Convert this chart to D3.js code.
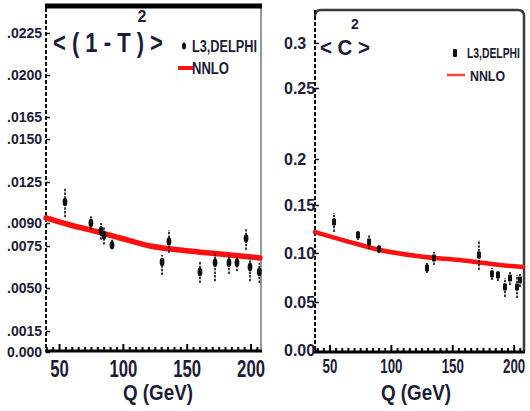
<!DOCTYPE html>
<html>
<head>
<meta charset="utf-8">
<script src="https://cdn.jsdelivr.net/npm/d3@7"></script>
<style>
  body { margin: 0; background: #fff; }
  svg { display: block; }
  text { font-family: "Liberation Sans", Arial, sans-serif; font-weight: bold; fill: #1c1c38; }
</style>
</head>
<body>
<svg id="chart" width="530" height="411"></svg>
<script>
// left panel, <(1-T)^2>
const qT = [54.3, 74.6, 82.5, 84.8, 91.1, 130.3, 135.7, 160.0, 171.8, 182.7, 189.0, 196.1, 199.2, 206.5]
const valT = [.0108, .0090, .0085, .0082, .00756, .00655, .0078, .00595, .0065, .0065, .0065, .0080, .00625, .00595]
const loT = [.0095, .00855, .0079, .0076, .0073, .00577, .0071, .0053, .0054, .00583, .0060, .00726, .0054, .0053]
const hiT = [.0120, .0096, .0090, .0087, .0079, .00696, .00855, .00655, .0071, .00696, .00685, .0086, .00685, .0065]
const nnloQT = [39.4, 58.2, 73.9, 97.4, 120.9, 144.4, 167.9, 207.0]
const nnloT = [.00943, .00887, .00855, .00802, .0075, .00726, .00708, .00679]
const yTicksT = [0, .0015, .0050, .0075, .0090, .0125, .0150, .0165, .0200, .0225]
const yLabelsT = ['0.000', '.0015', '.0050', '.0075', '.0090', '.0125', '.0150', '.0165', '.0200', '.0225']

// right panel, <C^2>
const qC = [53.3, 72.8, 81.8, 89.9, 129.0, 134.7, 171.3, 181.9, 186.8, 192.5, 196.6, 202.3, 204.7]
const valC = [.1323, .1187, .1114, .1042, .0847, .0949, .098, .0786, .0776, .0653, .0745, .0653, .0724]
const loC = [.1219, .1135, .1042, .100, .0796, .0878, .0827, .0724, .0714, .0551, .0673, .0541, .0653]
const hiC = [.1417, .1229, .1187, .1083, .0898, .1010, .1135, .0847, .0827, .0745, .0806, .0776, .0786]
const nnloQC = [37.8, 66.3, 90.7, 127.4, 155.9, 188.5, 207.2]
const nnloC = [.1219, .1114, .1031, .0959, .0929, .0878, .0857]
const yTicksC = [0, .05, .10, .15, .2, .25, .3]
const yLabelsC = ['0.00', '0.05', '0.10', '0.15', '0.2', '0.25', '0.3']

const xTicks = [50, 100, 150, 200]

const svg = d3.select('#chart')

// squeeze a text horizontally to a given width (the source uses a narrow font)
function fitText(g, x, y, str, size, w, anchor) {
  const t = g.append('text').attr('text-anchor', anchor || 'start')
    .style('font-size', size + 'px').text(str)
  const len = t.node().getComputedTextLength()
  t.attr('transform', `translate(${x},${y}) scale(${w / len},1)`)
  return t
}

function panel(o) {
  const g = svg.append('g')
  const x = d3.scaleLinear().domain(o.xDomain).range([o.left, o.right])
  const y = d3.scaleLinear().domain(o.yTicks).range(o.yRange)

  // frame
  if (o.rounded) {
    g.append('path')
      .attr('d', `M${o.right},${o.bottom}V${o.top + 6}Q${o.right},${o.top} ${o.right - 6},${o.top}H${o.left + 6}Q${o.left},${o.top} ${o.left},${o.top + 6}`)
      .attr('fill', 'none').attr('stroke', '#3a3a3a').attr('stroke-width', 2.5)
  } else {
    g.append('line').attr('x1', o.right).attr('x2', o.right).attr('y1', o.top).attr('y2', o.bottom)
      .attr('stroke', '#999').attr('stroke-width', 2)
    g.append('line').attr('x1', o.left - 1).attr('x2', o.right + 1).attr('y1', o.top - 2).attr('y2', o.top - 2)
      .attr('stroke', '#000').attr('stroke-width', 5)
  }
  // left axis, dashed look
  g.append('line').attr('x1', o.left).attr('x2', o.left).attr('y1', o.top).attr('y2', o.bottom)
    .attr('stroke', '#111').attr('stroke-width', 2).attr('stroke-dasharray', '4,2')

  const ya = g.append('g').attr('transform', `translate(${o.left},0)`)
    .call(d3.axisLeft(y).tickValues(o.yTicks).tickFormat((d, i) => o.yLabels[i]).tickSize(-4).tickPadding(0))
  ya.select('.domain').remove()
  ya.selectAll('line').attr('stroke', '#111').attr('stroke-width', 1.5)
  ya.selectAll('text')
    .attr('text-anchor', 'start').attr('x', o.yLabelX - o.left)
    .style('font-size', o.yFont + 'px').attr('fill', '#1c1c38')

  // bottom axis with minor ticks
  g.append('line').attr('x1', o.left - 1).attr('x2', o.right + 1).attr('y1', o.bottom).attr('y2', o.bottom)
    .attr('stroke', '#000').attr('stroke-width', 3)
  const minor = d3.range(40, 210, 5).filter(d => d > o.xDomain[0] && d < o.xDomain[1])
  g.selectAll('.minor').data(minor).enter().append('line')
    .attr('x1', d => x(d)).attr('x2', d => x(d))
    .attr('y1', o.bottom).attr('y2', d => o.bottom - (d % 50 === 0 ? 7 : 4))
    .attr('stroke', '#000').attr('stroke-width', 2)

  xTicks.forEach(d => fitText(g, x(d), o.xLabelY, String(d), o.xFont, String(d).length * o.xCharW, 'middle'))
  fitText(g, o.titleX, 400, 'Q (GeV)', 22, 70, 'middle')

  // NNLO curve
  const line = d3.line().x(d => x(d[0])).y(d => y(d[1])).curve(d3.curveMonotoneX)
  g.append('path').datum(d3.zip(o.nnloQ, o.nnlo))
    .attr('d', line).attr('fill', 'none')
    .attr('stroke', '#ff1010').attr('stroke-width', o.curveW).attr('stroke-linecap', 'round')

  // data points
  const pts = g.selectAll('.pt').data(o.q.map((q, i) => ({ q, v: o.val[i], lo: o.lo[i], hi: o.hi[i] })))
    .enter().append('g')
  pts.append('line')
    .attr('x1', d => x(d.q)).attr('x2', d => x(d.q))
    .attr('y1', d => y(d.lo)).attr('y2', d => y(d.hi))
    .attr('stroke', '#111').attr('stroke-width', 1.6).attr('stroke-dasharray', '2.5,1.2')
  if (o.rounded) {
    pts.append('rect')
      .attr('x', d => x(d.q) - 2).attr('y', d => y(d.v) - 3.5)
      .attr('width', 4).attr('height', 7).attr('rx', 1).attr('fill', '#111')
  } else {
    pts.append('ellipse')
      .attr('cx', d => x(d.q)).attr('cy', d => y(d.v))
      .attr('rx', 2.4).attr('ry', 4.2).attr('fill', '#111')
  }
  return g
}

const left = panel({
  left: 46, right: 261, top: 8, bottom: 351,
  xDomain: [39.4, 207.8], yTicks: yTicksT, yLabels: yLabelsT,
  yRange: [352, 331, 288, 246, 223, 182, 139, 117, 75, 33],
  yLabelX: 7, yFont: 14, xFont: 23, xLabelY: 377, xCharW: 9.3, titleX: 158,
  q: qT, val: valT, lo: loT, hi: hiT, nnloQ: nnloQT, nnlo: nnloT, curveW: 5.5
})

const right = panel({
  left: 315, right: 524, top: 10, bottom: 352, rounded: true,
  xDomain: [37.8, 208], yTicks: yTicksC, yLabels: yLabelsC,
  yRange: [350, 302, 253, 205, 159, 88, 43],
  yLabelX: 284, yFont: 16, xFont: 20, xLabelY: 373, xCharW: 7.4, titleX: 416,
  q: qC, val: valC, lo: loC, hi: hiC, nnloQ: nnloQC, nnlo: nnloC, curveW: 4.5
})

// titles
fitText(left, 53, 52, '< ( 1 - T ) >', 27, 110)
left.append('text').attr('x', 142).attr('y', 22).attr('text-anchor', 'middle')
  .style('font-size', '16px').text('2')
fitText(right, 320, 55, '< C >', 23, 50)
right.append('text').attr('x', 355).attr('y', 29).attr('text-anchor', 'middle')
  .style('font-size', '14px').text('2')

// legends
left.append('ellipse').attr('cx', 184).attr('cy', 46).attr('rx', 2).attr('ry', 3.5).attr('fill', '#111')
fitText(left, 192, 52, 'L3,DELPHI', 16, 65)
left.append('line').attr('x1', 178).attr('x2', 193).attr('y1', 68).attr('y2', 68)
  .attr('stroke', '#ff1010').attr('stroke-width', 4)
fitText(left, 192, 74, 'NNLO', 16, 37)

right.append('rect').attr('x', 453).attr('y', 49).attr('width', 4).attr('height', 8).attr('rx', 1).attr('fill', '#111')
fitText(right, 467, 58, 'L3,DELPHI', 15, 53)
right.append('line').attr('x1', 447).attr('x2', 465).attr('y1', 75).attr('y2', 75)
  .attr('stroke', '#ff4040').attr('stroke-width', 2.5)
fitText(right, 470, 81, 'NNLO', 15, 35)
</script>
</body>
</html>
